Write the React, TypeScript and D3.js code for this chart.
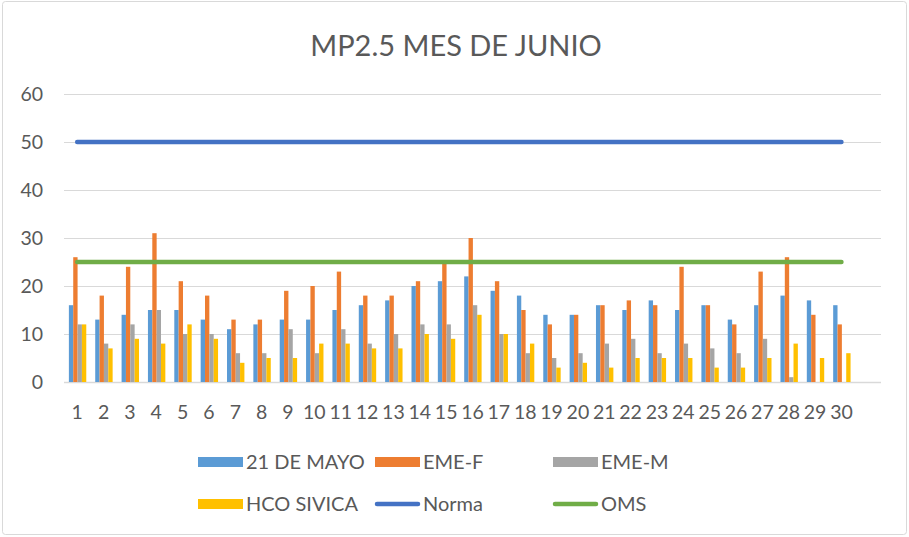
import React, { useRef, useEffect } from 'react';
import * as d3 from 'd3';

// day labels (the chart keeps an empty 31st slot at the end of the axis)
const days = ['1', '2', '3', '4', '5', '6', '7', '8', '9', '10', '11', '12', '13', '14', '15',
    '16', '17', '18', '19', '20', '21', '22', '23', '24', '25', '26', '27', '28', '29', '30'];
const yTicks = [0, 10, 20, 30, 40, 50, 60];

const mayo21 = [16, 13, 14, 15, 15, 13, 11, 12, 13, 13, 15, 16, 17, 20, 21, 22, 19, 18, 14, 14, 16, 15, 17, 15, 16, 13, 16, 18, 17, 16];
const emeF = [26, 18, 24, 31, 21, 18, 13, 13, 19, 20, 23, 18, 18, 21, 25, 30, 21, 15, 12, 14, 16, 17, 16, 24, 16, 12, 23, 26, 14, 12];
const emeM = [12, 8, 12, 15, 10, 10, 6, 6, 11, 6, 11, 8, 10, 12, 12, 16, 10, 6, 5, 6, 8, 9, 6, 8, 7, 6, 9, 1, 0, 0];
const hcoSivica = [12, 7, 9, 8, 12, 9, 4, 5, 5, 8, 8, 7, 7, 10, 9, 14, 10, 8, 3, 4, 3, 5, 5, 5, 3, 3, 5, 8, 5, 6];
const norma = [50, 50, 50, 50, 50, 50, 50, 50, 50, 50, 50, 50, 50, 50, 50, 50, 50, 50, 50, 50, 50, 50, 50, 50, 50, 50, 50, 50, 50, 50];
const oms = [25, 25, 25, 25, 25, 25, 25, 25, 25, 25, 25, 25, 25, 25, 25, 25, 25, 25, 25, 25, 25, 25, 25, 25, 25, 25, 25, 25, 25, 25];

const barSeries = [
    { name: '21 DE MAYO', values: mayo21, color: '#5B9BD5' },
    { name: 'EME-F', values: emeF, color: '#ED7D31' },
    { name: 'EME-M', values: emeM, color: '#A5A5A5' },
    { name: 'HCO SIVICA', values: hcoSivica, color: '#FFC000' },
];
const lineSeries = [
    { name: 'Norma', values: norma, color: '#4472C4' },
    { name: 'OMS', values: oms, color: '#70AD47' },
];

const WIDTH = 909;
const HEIGHT = 537;
const FONT = 'Lato, "Open Sans", sans-serif';
const TEXT = '#595959';

const App: React.FC = () => {
    const svgRef = useRef<SVGSVGElement>(null);

    useEffect(() => {
        if (!svgRef.current) return;
        const svg = d3.select(svgRef.current);
        svg.selectAll('*').remove();

        const plot = { left: 64, right: 881, top: 94, bottom: 382 };

        // outer frame
        svg.append('rect')
            .attr('x', 2.5).attr('y', 1.5)
            .attr('width', WIDTH - 5).attr('height', HEIGHT - 4)
            .attr('rx', 3)
            .attr('fill', '#fff')
            .attr('stroke', '#D9D9D9');

        svg.append('text')
            .attr('x', 456).attr('y', 56)
            .attr('text-anchor', 'middle')
            .attr('font-family', FONT)
            .attr('font-size', 29)
            .attr('fill', TEXT)
            .text('MP2.5 MES DE JUNIO');

        const xScale = d3.scaleBand<string>()
            .domain([...days, ''])
            .range([plot.left, plot.right]);

        const yScale = d3.scaleLinear()
            .domain([0, 60])
            .range([plot.bottom, plot.top]);

        const groupWidth = 17.4;
        const inner = d3.scaleBand<string>()
            .domain(barSeries.map(s => s.name))
            .range([0, groupWidth]);
        const groupOffset = (xScale.bandwidth() - groupWidth) / 2 + 0.4;

        // grid
        svg.append('g')
            .selectAll('line')
            .data(yTicks)
            .join('line')
            .attr('x1', plot.left).attr('x2', plot.right)
            .attr('y1', d => yScale(d) + 0.5).attr('y2', d => yScale(d) + 0.5)
            .attr('stroke', '#D9D9D9')
            .attr('stroke-width', d => (d === 0 ? 1.5 : 1));

        // y labels
        svg.append('g')
            .selectAll('text')
            .data(yTicks)
            .join('text')
            .attr('x', 43)
            .attr('y', d => yScale(d) + 7)
            .attr('text-anchor', 'end')
            .attr('font-family', FONT)
            .attr('font-size', 19.5)
            .attr('fill', TEXT)
            .text(d => d);

        // x labels
        svg.append('g')
            .selectAll('text')
            .data(days)
            .join('text')
            .attr('x', d => (xScale(d) as number) + xScale.bandwidth() / 2)
            .attr('y', 419)
            .attr('text-anchor', 'middle')
            .attr('font-family', FONT)
            .attr('font-size', 19.5)
            .attr('fill', TEXT)
            .text(d => d);

        // bars
        barSeries.forEach(s => {
            svg.append('g')
                .selectAll('rect')
                .data(s.values)
                .join('rect')
                .attr('x', (_, i) => (xScale(days[i]) as number) + groupOffset + (inner(s.name) as number))
                .attr('y', d => yScale(d))
                .attr('width', inner.bandwidth())
                .attr('height', d => plot.bottom - yScale(d))
                .attr('fill', s.color);
        });

        // reference lines
        const line = d3.line<number>()
            .x((_, i) => (xScale(days[i]) as number) + xScale.bandwidth() / 2)
            .y(d => yScale(d));

        lineSeries.forEach(s => {
            svg.append('path')
                .datum(s.values)
                .attr('fill', 'none')
                .attr('stroke', s.color)
                .attr('stroke-width', 4.5)
                .attr('stroke-linecap', 'round')
                .attr('d', line);
        });

        // legend
        const legendItems = [
            { ...barSeries[0], kind: 'bar', x: 198, y: 462 },
            { ...barSeries[1], kind: 'bar', x: 375, y: 462 },
            { ...barSeries[2], kind: 'bar', x: 553, y: 462 },
            { ...barSeries[3], kind: 'bar', x: 198, y: 504 },
            { ...lineSeries[0], kind: 'line', x: 375, y: 504 },
            { ...lineSeries[1], kind: 'line', x: 553, y: 504 },
        ];

        legendItems.forEach(item => {
            const g = svg.append('g');
            if (item.kind === 'bar') {
                g.append('rect')
                    .attr('x', item.x).attr('y', item.y - 5)
                    .attr('width', 45).attr('height', 10)
                    .attr('fill', item.color);
            } else {
                g.append('line')
                    .attr('x1', item.x + 2).attr('x2', item.x + 43)
                    .attr('y1', item.y).attr('y2', item.y)
                    .attr('stroke', item.color)
                    .attr('stroke-width', 4.5)
                    .attr('stroke-linecap', 'round');
            }
            g.append('text')
                .attr('x', item.x + 48)
                .attr('y', item.y + 7)
                .attr('font-family', FONT)
                .attr('font-size', 20)
                .attr('fill', TEXT)
                .text(item.name);
        });
    }, []);

    return (
        <svg
            ref={svgRef}
            width={WIDTH}
            height={HEIGHT}
            style={{ position: 'absolute', left: 0, top: 0 }}
        />
    );
};

export default App;
